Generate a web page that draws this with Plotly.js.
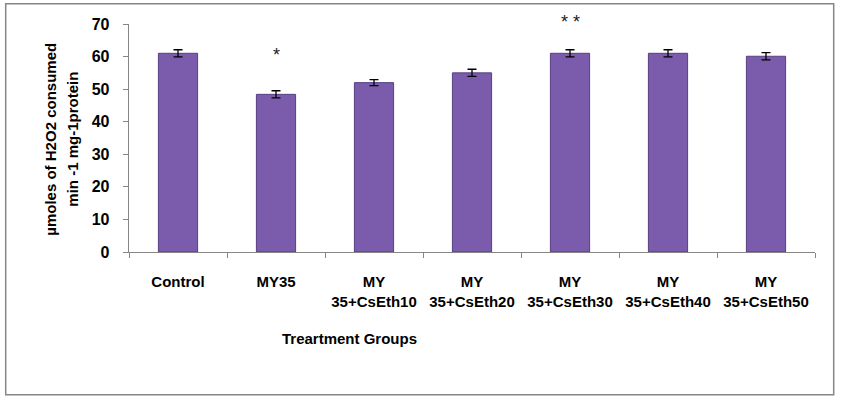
<!DOCTYPE html>
<html>
<head>
<meta charset="utf-8">
<script src="https://cdn.plot.ly/plotly-3.0.1.min.js"></script>
<style>
html,body{margin:0;padding:0;background:#fff;}
#chart{width:841px;height:397px;}
</style>
</head>
<body>
<div id="chart"></div>
<script>
var categories = ["Control","MY35","MY 35+CsEth10","MY 35+CsEth20","MY 35+CsEth30","MY 35+CsEth40","MY 35+CsEth50"];
var tickLabels = ["Control","MY35","MY<br>35+CsEth10","MY<br>35+CsEth20","MY<br>35+CsEth30","MY<br>35+CsEth40","MY<br>35+CsEth50"];
var values = [61.0, 48.4, 52.0, 55.0, 61.0, 61.0, 60.1];
var errors = [1.1, 1.1, 0.9, 1.1, 1.1, 1.1, 1.1];
var sigCats = ["MY35", "MY 35+CsEth30"];
var sigTexts = ["*", "* *"];
var yTitleLines = ["µmoles of H2O2 consumed", "min -1 mg-1protein"];
var xTitle = "Treartment Groups";

var font = "Liberation Sans, Arial, sans-serif";
var grey = "#868686";

var L = 129.3, R = 815.3, T = 24.3, B = 251.7;
function px(x){ return (x - L) / (R - L); }
function py(y){ return (B - y) / (B - T); }

var trace = {
  type: "bar",
  x: categories,
  y: values,
  width: 0.4,
  marker: {color: "#7b5bab", line: {color: "#553f80", width: 1}},
  error_y: {type: "data", array: errors, visible: true, color: "#000", thickness: 1.3, width: 4.5}
};

var sigY = [py(55), py(22)];
var annotations = sigCats.map(function(c, i){
  return {x: c, y: sigY[i], xref: "x", yref: "paper", text: sigTexts[i], showarrow: false,
          xanchor: "center", yanchor: "middle",
          font: {family: font, size: 18, color: "#222"}};
});
annotations.push({x: px(350), y: py(338), xref: "paper", yref: "paper", text: xTitle, showarrow: false,
  xanchor: "center", yanchor: "middle",
  font: {family: font, size: 15, color: "#000", weight: "bold"}});
var yTitleX = [50, 72];
yTitleLines.forEach(function(t, i){
  annotations.push({x: px(yTitleX[i]), y: py(139), xref: "paper", yref: "paper", text: t, showarrow: false,
    xanchor: "center", yanchor: "middle", textangle: -90,
    font: {family: font, size: 15, color: "#000", weight: "bold"}});
});

var layout = {
  width: 841, height: 397,
  margin: {l: L, r: 841 - R, t: T, b: 397 - B},
  paper_bgcolor: "#fff", plot_bgcolor: "#fff",
  showlegend: false,
  xaxis: {
    type: "category", tickmode: "array", tickvals: categories, ticktext: tickLabels,
    tickson: "boundaries", ticks: "outside", ticklen: 5, tickcolor: grey, tickwidth: 1,
    showline: true, linecolor: grey, linewidth: 1.3, showgrid: false, zeroline: false,
    ticklabelstandoff: 16,
    tickfont: {family: font, size: 15, color: "#000", weight: "bold"}
  },
  yaxis: {
    range: [0, 70], tickvals: [0,10,20,30,40,50,60,70], ticks: "outside", ticklen: 5,
    tickcolor: grey, tickwidth: 1, showline: true, linecolor: grey, linewidth: 1.3,
    showgrid: false, zeroline: false, ticklabelstandoff: 10,
    tickfont: {family: font, size: 16, color: "#000", weight: "bold"}
  },
  annotations: annotations,
  shapes: [{type: "rect", xref: "paper", yref: "paper", layer: "below",
    x0: px(6), x1: px(834), y0: py(394), y1: py(4),
    line: {color: grey, width: 1.5}, fillcolor: "rgba(0,0,0,0)"}]
};

Plotly.newPlot("chart", [trace], layout, {displayModeBar: false, staticPlot: true});
</script>
</body>
</html>
